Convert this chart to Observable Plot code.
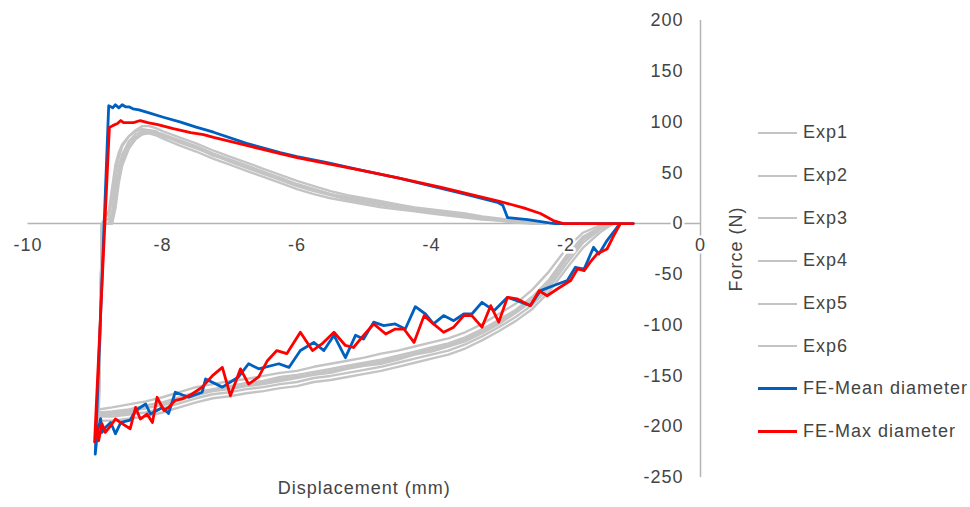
<!DOCTYPE html>
<html><head><meta charset="utf-8">
<script src="https://cdn.jsdelivr.net/npm/d3@7"></script>
<script src="https://cdn.jsdelivr.net/npm/@observablehq/plot@0.6"></script>
<style>
html,body{margin:0;padding:0;background:#fff;}
#wrap{position:relative;width:970px;height:507px;font-family:"Liberation Sans",Arial,sans-serif;}
#wrap svg{position:absolute;left:0;top:0;}
#legend{position:absolute;left:758px;top:111.5px;}
.row{display:flex;align-items:center;height:42.7px;font-size:18px;letter-spacing:1px;color:#444444;white-space:nowrap;}
.sw{width:39px;margin-right:6px;}
</style></head><body><div id="wrap"><div id="legend"></div></div>
<script>
// ---- axis ticks ----
const xTicks = [-10, -8, -6, -4, -2, 0];
const yTicks = [200, 150, 100, 50, 0, -50, -100, -150, -200, -250];

// ---- experimental curves: shared displacement grids (mm) ----
const expTopX = [-8.9, -8.8, -8.75, -8.7, -8.65, -8.6, -8.5, -8.4, -8.3, -8.2, -8.1, -8.0, -7.75, -7.5, -7.25, -7.0, -6.75, -6.5, -6.25, -6.0, -5.75, -5.5, -5.25, -5.0, -4.75, -4.5, -4.25, -4.0, -3.75, -3.5, -3.25, -3.0, -2.75, -2.5, -2.3];
const expBotX = [-8.95, -8.75, -8.5, -8.25, -8.0, -7.75, -7.5, -7.25, -7.0, -6.75, -6.5, -6.25, -6.0, -5.75, -5.5, -5.25, -5.0, -4.75, -4.5, -4.25, -4.0, -3.75, -3.5, -3.25, -3.0, -2.75, -2.5, -2.25, -2.0, -1.75, -1.5, -1.3];

// forces (N)
const exp1Top = [0, 12, 35, 58, 70, 78, 86, 91, 93, 92, 90, 88, 82, 76, 69, 63, 57, 51, 45, 39, 34, 29, 26, 23, 20, 17, 15, 12, 10, 8, 6, 4, 2, 1, 0];
const exp2Top = [0, 0, 10, 38, 56, 68, 81, 88, 91, 92, 91, 87, 80, 74, 68, 61, 55, 49, 43, 37, 32, 28, 24, 21, 18, 16, 13, 11, 9, 7, 5, 3, 2, 0, 0];
const exp3Top = [0, 0, 0, 28, 48, 62, 77, 85, 89, 90, 89, 86, 81, 75, 67, 62, 56, 50, 45, 38, 33, 28, 25, 22, 19, 16, 14, 12, 10, 8, 6, 4, 3, 1, 0];
const exp4Top = [0, 5, 25, 50, 65, 76, 86, 92, 96, 96, 94, 91, 85, 79, 72, 66, 60, 54, 48, 42, 37, 32, 28, 25, 22, 19, 16, 14, 12, 10, 7, 5, 3, 1, 0];
const exp5Top = [0, 0, 5, 32, 50, 63, 77, 85, 88, 89, 87, 84, 77, 71, 64, 58, 52, 46, 40, 34, 29, 25, 22, 19, 16, 14, 12, 10, 8, 6, 4, 3, 1, 0, 0];
const exp6Top = [0, 0, 0, 15, 40, 57, 74, 83, 88, 90, 89, 87, 82, 76, 69, 63, 57, 51, 44, 38, 34, 29, 25, 22, 19, 17, 14, 12, 10, 8, 6, 4, 2, 1, 0];

const exp1Bot = [-186, -185, -183, -179, -176, -171, -166, -163, -160, -157, -155, -151, -149, -146, -143, -140, -137, -134, -130, -126, -122, -118, -112, -104, -95, -85, -72, -55, -32, -13, -4, 0];
const exp2Bot = [-190, -190, -188, -186, -182, -177, -172, -168, -166, -163, -161, -158, -156, -152, -150, -147, -144, -141, -137, -133, -129, -125, -119, -111, -102, -92, -80, -63, -40, -19, -6, 0];
const exp3Bot = [-183, -181, -178, -175, -171, -166, -161, -158, -155, -153, -150, -147, -145, -141, -138, -135, -132, -128, -125, -121, -117, -113, -107, -99, -89, -79, -65, -47, -25, -9, -2, 0];
const exp4Bot = [-194, -194, -192, -190, -186, -181, -176, -172, -170, -167, -165, -162, -160, -156, -154, -151, -148, -145, -141, -137, -133, -129, -123, -115, -106, -96, -84, -67, -45, -24, -9, 0];
const exp5Bot = [-188, -186, -184, -182, -178, -173, -168, -164, -162, -159, -157, -153, -151, -148, -145, -142, -139, -136, -132, -128, -124, -120, -114, -106, -97, -87, -75, -58, -35, -15, -5, 0];
const exp6Bot = [-189, -188, -186, -181, -179, -174, -169, -165, -163, -160, -158, -155, -152, -149, -147, -143, -140, -138, -134, -129, -126, -121, -116, -108, -99, -88, -76, -60, -36, -16, -5, 0];

// ---- FE curves (path order: unloading flat, top branch leftwards, drop, bottom branch rightwards) ----
const feMeanX = [-1.0, -2.16, -2.23, -2.57, -2.87, -2.94, -3.02, -3.5, -3.87, -4.5, -5.0, -5.55, -6.0, -6.25, -6.75, -7.24, -7.5, -7.73, -8.0, -8.2, -8.35, -8.44, -8.5, -8.55, -8.6, -8.65, -8.7, -8.74, -8.8,
  -9.0, -8.97, -8.92, -8.9, -8.85, -8.77, -8.7, -8.62, -8.48, -8.4, -8.25, -8.18, -8.0, -7.91, -7.81, -7.61, -7.41, -7.36, -7.11, -6.87, -6.72, -6.57, -6.27, -6.12, -5.95, -5.75, -5.6, -5.45, -5.28, -5.13, -5.01, -4.86, -4.71, -4.54, -4.39, -4.24, -4.09, -3.97, -3.82, -3.67, -3.52, -3.4, -3.25, -3.07, -2.87, -2.73, -2.53, -2.38, -2.18, -1.98, -1.86, -1.73, -1.59, -1.51, -1.39, -1.24, -1.19];
const feMeanY = [0, 0, 0.5, 4, 6, 18, 21, 29, 35, 45, 52, 60, 66, 70, 79, 90, 95, 100, 105, 109, 112, 113, 115, 115, 117, 114, 117, 114, 116,
  -227, -207, -192, -205.6, -200.7, -195.8, -207, -195.8, -193.4, -184, -177.6, -187.5, -181, -187, -166, -171, -166, -153, -161, -151, -138, -143, -138, -141.6, -125, -117, -125, -110, -132, -110, -113.6, -97, -100.5, -98.8, -103.8, -81.8, -89, -98.8, -90.6, -95.6, -89, -89, -77.5, -85.7, -72.6, -75.9, -80.8, -66, -61, -56, -43, -44.7, -23.3, -30, -16.7, -3.6, 0];

const feMaxX = [-1.0, -2.04, -2.19, -2.38, -2.63, -3.02, -3.5, -3.87, -4.5, -5.0, -5.55, -6.0, -6.25, -6.75, -7.24, -7.39, -7.58, -7.84, -8.07, -8.22, -8.33, -8.43, -8.51, -8.58, -8.62, -8.67, -8.74, -8.79,
  -9.01, -8.97, -8.95, -8.9, -8.85, -8.77, -8.7, -8.6, -8.48, -8.4, -8.33, -8.23, -8.15, -8.08, -7.98, -7.91, -7.81, -7.71, -7.56, -7.41, -7.26, -7.11, -6.99, -6.84, -6.72, -6.57, -6.44, -6.3, -6.15, -5.95, -5.77, -5.63, -5.45, -5.28, -5.16, -5.01, -4.86, -4.68, -4.54, -4.41, -4.26, -4.11, -3.97, -3.82, -3.67, -3.52, -3.4, -3.25, -3.12, -3.0, -2.87, -2.73, -2.53, -2.4, -2.28, -2.13, -1.93, -1.83, -1.73, -1.64, -1.54, -1.39, -1.29, -1.19];
const feMaxY = [0, 0, 3, 10, 15.5, 22.5, 30, 36, 45, 52, 59, 65, 69, 77, 85, 87.7, 89.7, 93.6, 97.5, 99.5, 101.5, 99.5, 99.5, 99.5, 101.5, 98.5, 96.5, 94.6,
  -215, -200.7, -213.8, -197, -205.6, -199, -192.4, -197, -202, -181, -192.4, -187.5, -195.8, -171, -184, -181, -174, -172.7, -167.8, -161, -150, -141.6, -169.5, -143, -158, -151, -135, -125, -128, -107, -125, -118.5, -107, -120, -122, -110, -98.8, -108.7, -103.8, -103.8, -117, -90.6, -98.8, -107, -102, -90.6, -90.6, -102, -80.8, -97, -72.6, -74, -80.8, -66, -71, -64.4, -56, -44.7, -46.3, -38, -30, -25, -11.8, 0];

const seriesNames = ["Exp1", "Exp2", "Exp3", "Exp4", "Exp5", "Exp6", "FE-Mean diameter", "FE-Max diameter"];
const seriesColors = ["#c4c4c4", "#c4c4c4", "#c4c4c4", "#c4c4c4", "#c4c4c4", "#c4c4c4", "#0060c0", "#ff0000"];

// ---- build tables ----
const expTops = [exp1Top, exp2Top, exp3Top, exp4Top, exp5Top, exp6Top];
const expBots = [exp1Bot, exp2Bot, exp3Bot, exp4Bot, exp5Bot, exp6Bot];
const expRows = [];
expTops.forEach((top, k) => {
  const name = seriesNames[k];
  const t = expTopX.map((x, i) => ({series: name, x, y: top[i]})).reverse();
  const b = expBotX.map((x, i) => ({series: name, x, y: expBots[k][i]}));
  expRows.push(...t, ...b);
});
const meanRows = feMeanX.map((x, i) => ({x, y: feMeanY[i]}));
const maxRows = feMaxX.map((x, i) => ({x, y: feMaxY[i]}));

const labelColor = "#444444";
const axisColor = "#b4b4b4";

const chart = Plot.plot({
  width: 970,
  height: 507,
  marginLeft: 27.5,
  marginRight: 270,
  marginTop: 20,
  marginBottom: 30,
  x: {domain: [-10, 0], axis: null},
  y: {domain: [-250, 200], axis: null},
  style: {fontFamily: "'Liberation Sans', Arial, sans-serif", fontSize: "18px", letterSpacing: "1px", background: "white", overflow: "visible"},
  marks: [
    Plot.ruleY([0], {x1: -10, x2: 0, stroke: axisColor, strokeWidth: 1.5}),
    Plot.ruleX([0], {y1: -250, y2: 200, stroke: axisColor, strokeWidth: 1.5}),
    Plot.line(expRows, {x: "x", y: "y", z: "series", stroke: seriesColors[0], strokeWidth: 2.4, strokeLinejoin: "round"}),
    Plot.line(meanRows, {x: "x", y: "y", stroke: seriesColors[6], strokeWidth: 2.8, strokeLinejoin: "round"}),
    Plot.line(maxRows, {x: "x", y: "y", stroke: seriesColors[7], strokeWidth: 2.8, strokeLinejoin: "round"}),
    Plot.text(xTicks, {x: d => d, y: 0, dy: 22, text: d => String(d), fill: labelColor, stroke: "white", strokeWidth: 5}),
    Plot.text(yTicks, {x: 0, y: d => d, dx: -17, text: d => String(d), textAnchor: "end", fill: labelColor, stroke: "white", strokeWidth: 5}),
    Plot.text(["Force (N)"], {x: 0, frameAnchor: "middle", dx: 36, rotate: -90, text: d => d, fill: labelColor}),
    Plot.text(["Displacement (mm)"], {frameAnchor: "bottom", dy: 16, text: d => d, fill: labelColor})
  ]
});
const wrap = document.getElementById("wrap");
wrap.insertBefore(chart, wrap.firstChild);

// ---- legend ----
const legend = document.getElementById("legend");
seriesNames.forEach((name, i) => {
  const row = document.createElement("div");
  row.className = "row";
  const sw = document.createElement("div");
  sw.className = "sw";
  sw.style.height = i < 6 ? "2px" : "3px";
  sw.style.background = seriesColors[i];
  const tx = document.createElement("span");
  tx.textContent = name;
  row.appendChild(sw);
  row.appendChild(tx);
  legend.appendChild(row);
});
</script></body></html>
